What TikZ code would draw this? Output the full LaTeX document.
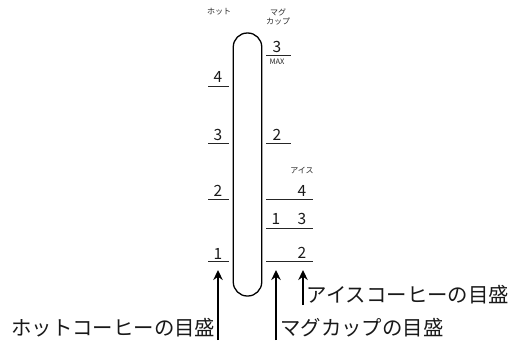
\documentclass[tikz,border=0pt]{standalone}
\usepackage{fontspec}
\setmainfont{Noto Sans CJK JP}
\usetikzlibrary{
  arrows.meta,
  positioning,
  calc
}
\tikzset{
  gauge/.style={
    draw,
    rectangle,
    rounded corners=14,
    minimum width=28.5,
    minimum height=263,
    line width=1.3,
    inner sep=0pt
  }
}
\tikzset{
  tick/.style={line width=0.7, draw=black!85},
  digit/.style={font=\fontsize{15.5}{15.5}\selectfont, inner sep=0pt, text=black!90},
  small/.style={font=\fontsize{8}{9.5}\selectfont, inner sep=0pt, align=center, text=black!85},
  caption/.style={font=\fontsize{20.4}{20.4}\selectfont, inner sep=0pt, text=black!90},
  pointer/.style={-{Stealth[length=10,width=9.5]}, line width=1.5}
}

\begin{document}
\begin{tikzpicture}[x=1pt, y=-1pt]
    \useasboundingbox (0,0) rectangle (518,343);
    \node[gauge] (tube) at (247.5,164.5) {};
    % ticks
    \foreach \Name/\Left/\Right/\Y in {h4/208/229/86, h3/208/229/143, h2/208/229/199, h1/208/229/261,
      m3/266/291/55, m2/266/291/143, i4/266/313/199, i3/266/313/228, i2/266/313/261}{
      \coordinate (\Name) at (\Left,\Y);
      \draw[tick] (\Left,\Y) -- (\Right,\Y);
    }
    % digits
    \foreach \Name/\Label/\X/\Y in {d4/4/218/77, d3/3/218/135, d2/2/218/191, d1/1/218/254,
      e3/3/277/47, e2/2/277/135, f4/4/302/191, f3/3/302/219, g1/1/276/219, f2/2/302/253}{
      \node[digit] (\Name) at (\X,\Y) {\Label};
    }
    \node[small] (hot) at (219,12) {ホット};
    \node[small] (mug) at (278,17) {マグ\\カップ};
    \node[small] (ice) at (302,171) {アイス};
    \node[small, font=\fontsize{7.5}{8}\selectfont] (max) at (277,62) {MAX};
    % captions
    \node[caption, anchor=east] (hotLabel) at (215.5,328) {ホットコーヒーの目盛};
    \node[caption, anchor=west] (mugLabel) at (280,328) {マグカップの目盛};
    \node[caption, anchor=west] (iceLabel) at (306.5,295) {アイスコーヒーの目盛};
    % arrows
    \coordinate (hotTip) at (218,270);
    \coordinate (mugTip) at (276,270);
    \coordinate (iceTip) at (303,270);
    \draw[pointer] (hotTip |- 0,340) -- (hotTip);
    \draw[pointer] (mugTip |- 0,340) -- (mugTip);
    \draw[pointer] (iceTip |- 0,305) -- (iceTip);
  \end{tikzpicture}
\end{document}
